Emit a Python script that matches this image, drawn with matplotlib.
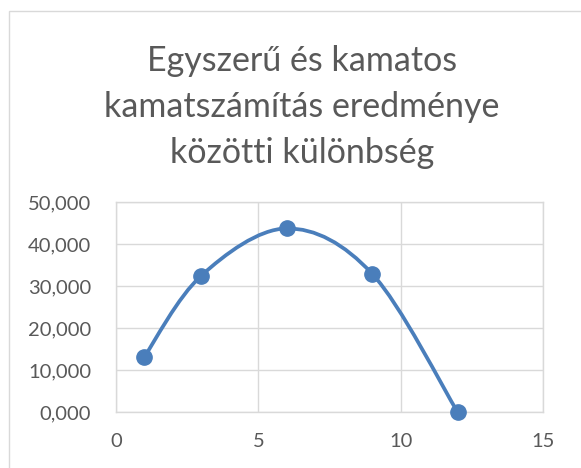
import numpy as np
import matplotlib.pyplot as plt
from matplotlib.path import Path
from matplotlib.patches import PathPatch, Rectangle

# data
periods = [1, 3, 6, 9, 12]
differences = [13200, 32500, 43700, 32900, 0]
x_ticks = [0, 5, 10, 15]
y_ticks = [0, 10000, 20000, 30000, 40000, 50000]
title = 'Egyszerű és kamatos\nkamatszámítás eredménye\nközötti különbség'

line_color = '#4a7ebb'
text_color = '#595959'
grid_color = '#d9d9d9'

plt.rcParams['font.family'] = ['Lato', 'DejaVu Sans']


def smooth_path(xs, ys):
    # Excel-like smoothed line: cubic Bezier segments, Catmull-Rom tangents
    pts = np.column_stack([xs, ys]).astype(float)
    padded = np.vstack([pts[0], pts, pts[-1]])
    verts = [pts[0]]
    codes = [Path.MOVETO]
    for i in range(len(pts) - 1):
        p0, p1, p2, p3 = padded[i], padded[i + 1], padded[i + 2], padded[i + 3]
        c1 = p1 + (p2 - p0) / 6.0
        c2 = p2 - (p3 - p1) / 6.0
        verts += [c1, c2, p2]
        codes += [Path.CURVE4] * 3
    return Path(verts, codes)


fig = plt.figure(figsize=(5.81, 4.68), dpi=100)
fig.patches.append(Rectangle((9 / 581, -0.1), 1.2, 1 - 11 / 468 + 0.1,
                             transform=fig.transFigure, fill=False,
                             edgecolor=grid_color, linewidth=1.0))

ax = fig.add_axes([116 / 581, 1 - 412 / 468, (543 - 116) / 581, (412 - 202) / 468])
ax.set_xlim(0, 15)
ax.set_ylim(0, 50000)

ax.add_patch(PathPatch(smooth_path(periods, differences), facecolor='none',
                       edgecolor=line_color, linewidth=2.7, zorder=3,
                       capstyle='round', clip_on=False))
ax.plot(periods, differences, linestyle='none', marker='o', markersize=11,
        color=line_color, zorder=4, clip_on=False)

ax.set_xticks(x_ticks)
ax.set_yticks(y_ticks)
ax.set_yticklabels(['%d,000' % (v // 1000) for v in y_ticks])
ax.grid(True, color=grid_color, linewidth=1.0)
ax.set_axisbelow(True)
for s in ax.spines.values():
    s.set_color(grid_color)
    s.set_linewidth(1.0)
ax.tick_params(length=0, labelsize=14.5, colors=text_color)
ax.tick_params(axis='y', pad=18)
ax.tick_params(axis='x', pad=15)

fig.text(0.52, 1 - 107 / 468, title, ha='center', va='center', fontsize=24.5,
         color=text_color, linespacing=1.55)

fig.savefig('out.png', dpi=100)
